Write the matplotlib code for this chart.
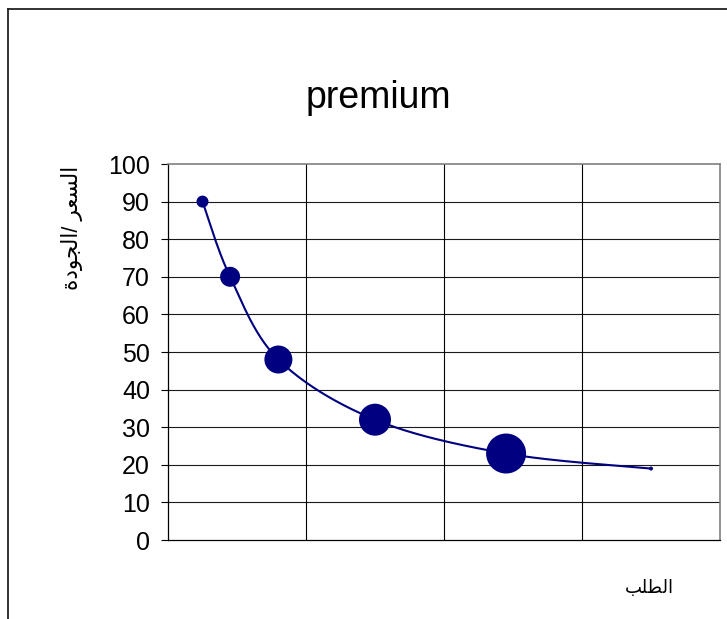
import numpy as np
import matplotlib
matplotlib.use("Agg")
import matplotlib.pyplot as plt
from matplotlib.lines import Line2D

# ---- data -------------------------------------------------------------
demand = [5, 9, 16, 30, 49, 70]
price_quality = [90, 70, 48, 32, 23, 19]
bubble_size = [9, 25, 49, 64, 100, 1]
y_ticks = [0, 10, 20, 30, 40, 50, 60, 70, 80, 90, 100]
x_grid = [0, 20, 40, 60, 80]

title_text = "premium"
ylabel_text = "السعر /الجودة"
xlabel_text = "الطلب"

NAVY = "#000080"

# ---- minimal Arabic shaping (matplotlib has no complex text layout) ----
FORMS = {
    'ا': ('\uFE8D', '\uFE8E', None, None),
    'ل': ('\uFEDD', '\uFEDE', '\uFEDF', '\uFEE0'),
    'س': ('\uFEB1', '\uFEB2', '\uFEB3', '\uFEB4'),
    'ع': ('\uFEC9', '\uFECA', '\uFECB', '\uFECC'),
    'ر': ('\uFEAD', '\uFEAE', None, None),
    'ج': ('\uFE9D', '\uFE9E', '\uFE9F', '\uFEA0'),
    'و': ('\uFEED', '\uFEEE', None, None),
    'د': ('\uFEA9', '\uFEAA', None, None),
    'ة': ('\uFE93', '\uFE94', None, None),
    'ط': ('\uFEC1', '\uFEC2', '\uFEC3', '\uFEC4'),
    'ب': ('\uFE8F', '\uFE90', '\uFE91', '\uFE92'),
}


def shape_rtl(text):
    out = []
    for i, ch in enumerate(text):
        f = FORMS.get(ch)
        if f is None:
            out.append(ch)
            continue
        prev = text[i - 1] if i > 0 else ''
        nxt = text[i + 1] if i + 1 < len(text) else ''
        joins_prev = prev in FORMS and FORMS[prev][2] is not None
        joins_next = f[2] is not None and nxt in FORMS
        if joins_prev and joins_next:
            g = f[3]
        elif joins_prev:
            g = f[1]
        elif joins_next:
            g = f[2]
        else:
            g = f[0]
        out.append(g)
    return ''.join(reversed(out))


def smooth_curve(px, py, n=40, tension=1 / 6):
    """Cardinal-spline style smoothing through points given in pixel space."""
    P = np.column_stack([px, py])
    P = np.vstack([P[0], P, P[-1]])
    pts = []
    for i in range(1, len(P) - 2):
        p0, p1, p2, p3 = P[i - 1], P[i], P[i + 1], P[i + 2]
        c1 = p1 + (p2 - p0) * tension
        c2 = p2 - (p3 - p1) * tension
        t = np.linspace(0, 1, n)[:, None]
        seg = ((1 - t) ** 3) * p1 + 3 * ((1 - t) ** 2) * t * c1 \
            + 3 * (1 - t) * t ** 2 * c2 + t ** 3 * p2
        pts.append(seg if i == 1 else seg[1:])
    return np.vstack(pts)


plt.rcParams['font.family'] = ['Liberation Sans', 'DejaVu Sans']

W, H = 727, 619
fig = plt.figure(figsize=(W / 100, H / 100), dpi=100)
fig.patch.set_facecolor('white')

left, right, top, bottom = 168, 720, 164, 540
ax = fig.add_axes([left / W, 1 - bottom / H, (right - left) / W, (bottom - top) / H])
ax.set_xlim(0, 80)
ax.set_ylim(0, 100)

# grid
for yv in y_ticks[1:-1]:
    ax.axhline(yv, color='#1a1a1a', lw=0.8, zorder=1)
for xv in x_grid[1:-1]:
    ax.axvline(xv, color='#000000', lw=0.8, zorder=1)

for side in ('top', 'right'):
    ax.spines[side].set_color('#808080')
    ax.spines[side].set_linewidth(1.2)
for side in ('left', 'bottom'):
    ax.spines[side].set_color('#000000')
    ax.spines[side].set_linewidth(0.9)

ax.set_yticks(y_ticks)
ax.set_yticklabels([str(v) for v in y_ticks])
ax.set_xticks([])
ax.tick_params(axis='y', direction='out', length=5, width=0.8, color='#000000',
               labelsize=18, pad=8)

# smoothed connecting line, computed in pixel space for even curvature
sx = (right - left) / 80.0
sy = (bottom - top) / 100.0
curve = smooth_curve(np.array(demand) * sx, np.array(price_quality) * sy)
ax.plot(curve[:, 0] / sx, curve[:, 1] / sy, color=NAVY, lw=1.5, zorder=3,
        solid_capstyle='round')

# bubbles: area proportional to bubble size (size 100 -> 40 px diameter)
diam_pt_at_100 = 40 * 72 / 100
areas = [b / 100.0 * diam_pt_at_100 ** 2 for b in bubble_size]
ax.scatter(demand, price_quality, s=areas, color=NAVY, edgecolors='none',
           zorder=4, clip_on=False)

# text
fig.text(378 / W, 1 - 98 / H, title_text, ha='center', va='center', fontsize=27)
fig.text(72 / W, 1 - 228 / H, shape_rtl(ylabel_text), ha='center', va='center',
         rotation=90, fontsize=15.5)
fig.text(649 / W, 1 - 589 / H, shape_rtl(xlabel_text), ha='center', va='center',
         fontsize=13)

# outer chart frame (extends past the right and bottom edges)
fx, fy = 7.5 / W, 1 - 8.5 / H
fig.add_artist(Line2D([fx, fx], [0, fy], transform=fig.transFigure,
                      color='#222222', lw=1.3))
fig.add_artist(Line2D([fx, 1], [fy, fy], transform=fig.transFigure,
                      color='#222222', lw=1.3))

fig.savefig('out.png', dpi=100)
